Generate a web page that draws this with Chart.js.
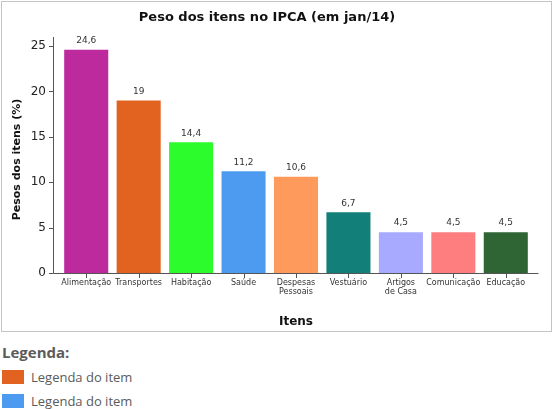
<!DOCTYPE html>
<html>
<head>
<meta charset="utf-8">
<script src="https://cdn.jsdelivr.net/npm/chart.js@4.4.0/dist/chart.umd.min.js"></script>
<style>
  html, body { margin: 0; padding: 0; background: #fff; }
  body { width: 553px; height: 409px; position: relative; overflow: hidden; }
  #box { position: absolute; left: 1px; top: 1px; width: 549px; height: 329px; border: 1px solid #c4c4c4; }
  #box canvas { display: block; }
  .leg-title { position: absolute; left: 2px; top: 342px; font: bold 15px "Open Sans", sans-serif; color: #5b5b5b; }
  .leg-item { position: absolute; left: 2px; font: 13px "Open Sans", sans-serif; color: #5b5b5b; line-height: 14px; }
  .leg-item span { display: inline-block; width: 22px; height: 14px; vertical-align: top; margin-right: 7px; }
</style>
</head>
<body>
<div id="box"><canvas id="chart" width="549" height="329"></canvas></div>
<div class="leg-title">Legenda:</div>
<div class="leg-item" style="top:370px"><span style="background:#e2621f"></span>Legenda do item</div>
<div class="leg-item" style="top:394px"><span style="background:#4d9bf0"></span>Legenda do item</div>
<script>
// data
const categories = [
  'Alimentação', 'Transportes', 'Habitação', 'Saúde', ['Despesas', 'Pessoais'],
  'Vestuário', ['Artigos', 'de Casa'], 'Comunicação', 'Educação'
];
const values = [24.6, 19, 14.4, 11.2, 10.6, 6.7, 4.5, 4.5, 4.5];
const barColors = [
  '#bd2a9e', '#e2621f', '#2cfb2c', '#4d9bf0', '#fd9a5c',
  '#127f79', '#a8aaff', '#fe7e80', '#2f6434'
];
const yTicks = [0, 5, 10, 15, 20, 25];

const FONT = '"DejaVu Sans", Verdana, sans-serif';

// axis lines + tick marks, slightly longer than the plot like the original
const axisPlugin = {
  id: 'axisLines',
  afterDatasetsDraw(chart) {
    const { ctx, chartArea: a, scales: { x, y } } = chart;
    ctx.save();
    ctx.strokeStyle = '#555';
    ctx.lineWidth = 1;
    ctx.beginPath();
    ctx.moveTo(a.left - 6.5, a.top - 9);
    ctx.lineTo(a.left - 6.5, a.bottom + 0.5);
    ctx.lineTo(a.right + 6.5, a.bottom + 0.5);
    yTicks.forEach(v => {
      const py = Math.round(y.getPixelForValue(v)) + 0.5;
      ctx.moveTo(a.left - 11, py);
      ctx.lineTo(a.left - 6.5, py);
    });
    categories.forEach((c, i) => {
      const px = Math.round(x.getPixelForValue(i)) + 0.5;
      ctx.moveTo(px, a.bottom);
      ctx.lineTo(px, a.bottom + 5);
    });
    ctx.stroke();

    // value labels
    ctx.fillStyle = '#333';
    ctx.font = '9px ' + FONT;
    ctx.textAlign = 'center';
    ctx.textBaseline = 'middle';
    const meta = chart.getDatasetMeta(0);
    meta.data.forEach((bar, i) => {
      ctx.fillText(String(values[i]).replace('.', ','), bar.x, bar.y - 9);
    });
    ctx.restore();
  }
};

new Chart(document.getElementById('chart'), {
  type: 'bar',
  data: {
    labels: categories,
    datasets: [{
      data: values,
      backgroundColor: barColors,
      barPercentage: 0.84,
      categoryPercentage: 1
    }]
  },
  options: {
    responsive: false,
    animation: false,
    layout: { padding: { left: 0, right: 19, top: 0, bottom: 0 } },
    plugins: {
      legend: { display: false },
      tooltip: { enabled: false },
      title: {
        display: true,
        text: 'Peso dos itens no IPCA (em jan/14)',
        color: '#111',
        font: { family: FONT, size: 13, weight: 'bold', lineHeight: 1.2 },
        padding: { top: 8, bottom: 20.4 }
      }
    },
    scales: {
      x: {
        grid: { display: false, drawTicks: false },
        border: { display: false },
        ticks: {
          color: '#333',
          font: { family: FONT, size: 8, lineHeight: 1.1 },
          padding: 6,
          maxRotation: 0,
          autoSkip: false
        },
        title: {
          display: true,
          text: 'Itens',
          color: '#111',
          font: { family: FONT, size: 12, weight: 'bold', lineHeight: 1.2 },
          padding: { top: 0, bottom: 2 }
        },
        afterFit(s) { s.height = 58; }
      },
      y: {
        min: 0,
        max: 25,
        grid: { display: false, drawTicks: false },
        border: { display: false },
        ticks: {
          stepSize: 5,
          color: '#222',
          font: { family: FONT, size: 12 },
          padding: 14
        },
        title: {
          display: true,
          text: 'Pesos dos itens (%)',
          color: '#111',
          font: { family: FONT, size: 11, weight: 'bold', lineHeight: 1.2 },
          padding: { top: 9, bottom: 0 }
        },
        afterFit(s) { s.width = 58; }
      }
    }
  },
  plugins: [axisPlugin]
});
</script>
</body>
</html>
